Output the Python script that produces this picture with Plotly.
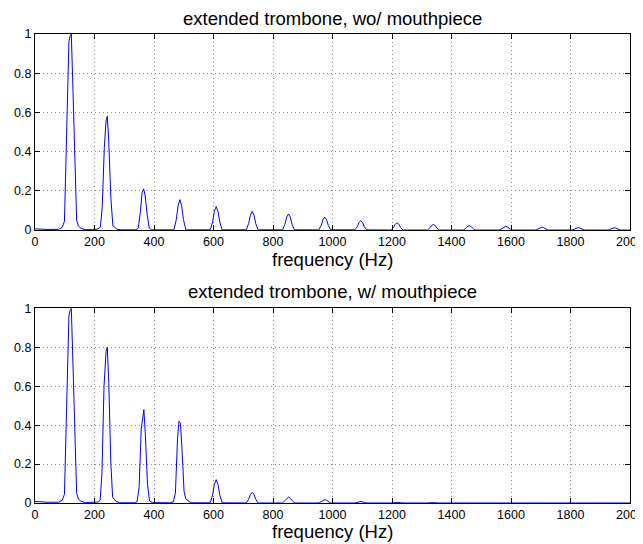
import plotly.graph_objects as go

# spectrum without mouthpiece (Hz, magnitude)
top_freq = [0, 40, 80, 92, 99, 106, 114, 118, 122, 127, 134, 140, 146, 155, 170,
            200, 212, 220, 226, 233, 239, 243, 248, 255, 262, 268, 275, 290,
            340, 347, 354, 360, 365, 370, 377, 384, 392,
            467, 475, 481, 487, 493, 499, 507,
            589, 597, 603, 609, 615, 621, 629,
            710, 718, 724, 730, 736, 742, 750,
            832, 840, 846, 852, 858, 864, 872,
            954, 962, 968, 974, 980, 986, 994,
            1075, 1083, 1089, 1095, 1101, 1107, 1115,
            1197, 1205, 1211, 1217, 1223, 1229, 1237,
            1319, 1327, 1333, 1339, 1345, 1351, 1359,
            1440, 1448, 1454, 1460, 1466, 1472, 1480,
            1562, 1570, 1576, 1582, 1588, 1594, 1602,
            1684, 1692, 1698, 1704, 1710, 1716, 1724,
            1806, 1814, 1820, 1826, 1832, 1838, 1846,
            1927, 1935, 1941, 1947, 1953, 1959, 1967,
            2000]
top_amp = [0.006, 0.003, 0.004, 0.015, 0.045, 0.45, 0.96, 0.99, 1.0, 0.75, 0.3, 0.05, 0.02, 0.008, 0.002,
           0.002, 0.006, 0.015, 0.12, 0.42, 0.56, 0.58, 0.45, 0.16, 0.02, 0.015, 0.004, 0.001,
           0.001, 0.01, 0.09, 0.19, 0.21, 0.18, 0.08, 0.01, 0.001,
           0.001, 0.054, 0.124, 0.155, 0.124, 0.054, 0.001,
           0.001, 0.042, 0.096, 0.12, 0.096, 0.042, 0.001,
           0.001, 0.033, 0.076, 0.095, 0.076, 0.033, 0.001,
           0.001, 0.029, 0.066, 0.082, 0.066, 0.029, 0.001,
           0.001, 0.023, 0.053, 0.066, 0.053, 0.023, 0.001,
           0.001, 0.016, 0.038, 0.047, 0.038, 0.016, 0.001,
           0.0, 0.013, 0.030, 0.037, 0.030, 0.013, 0.0,
           0.0, 0.010, 0.023, 0.029, 0.023, 0.010, 0.0,
           0.0, 0.008, 0.018, 0.022, 0.018, 0.008, 0.0,
           0.0, 0.007, 0.015, 0.019, 0.015, 0.007, 0.0,
           0.0, 0.005, 0.012, 0.015, 0.012, 0.005, 0.0,
           0.0, 0.005, 0.010, 0.013, 0.010, 0.005, 0.0,
           0.0, 0.004, 0.010, 0.012, 0.010, 0.004, 0.0,
           0.0]

# spectrum with mouthpiece
bot_freq = [0, 40, 80, 92, 99, 106, 114, 118, 122, 127, 134, 140, 146, 155, 170,
            200, 212, 219, 225, 232, 239, 243, 248, 255, 261, 266, 272, 285,
            335, 343, 350, 357, 361, 366, 371, 378, 385, 395,
            455, 465, 472, 479, 484, 489, 494, 501, 507, 514, 525,
            589, 597, 603, 609, 615, 621, 629,
            710, 718, 724, 730, 736, 742, 750,
            832, 840, 846, 852, 858, 864, 872,
            954, 962, 968, 974, 980, 986, 994,
            1075, 1083, 1089, 1095, 1101, 1107, 1115,
            1197, 1205, 1211, 1217, 1223, 1229, 1237,
            1319, 1339, 1359,
            1440, 1460, 1480,
            2000]
bot_amp = [0.008, 0.004, 0.004, 0.015, 0.045, 0.45, 0.96, 0.99, 1.0, 0.75, 0.3, 0.05, 0.02, 0.008, 0.002,
           0.002, 0.005, 0.015, 0.15, 0.6, 0.78, 0.80, 0.62, 0.2, 0.03, 0.02, 0.008, 0.001,
           0.001, 0.006, 0.08, 0.38, 0.44, 0.48, 0.35, 0.1, 0.01, 0.002,
           0.001, 0.006, 0.05, 0.33, 0.42, 0.41, 0.28, 0.06, 0.02, 0.012, 0.001,
           0.001, 0.042, 0.096, 0.12, 0.096, 0.042, 0.001,
           0.0, 0.019, 0.044, 0.055, 0.044, 0.019, 0.0,
           0.0, 0.011, 0.024, 0.03, 0.024, 0.011, 0.0,
           0.0, 0.006, 0.014, 0.017, 0.014, 0.006, 0.0,
           0.0, 0.003, 0.006, 0.008, 0.006, 0.003, 0.0,
           0.0, 0.0015, 0.003, 0.004, 0.003, 0.0015, 0.0,
           0.0, 0.002, 0.0,
           0.0, 0.001, 0.0,
           0.0]

titles = ["extended trombone, wo/ mouthpiece", "extended trombone, w/ mouthpiece"]
xlabel = "frequency (Hz)"
xticks = [0, 200, 400, 600, 800, 1000, 1200, 1400, 1600, 1800, 2000]
yticks = [0, 0.2, 0.4, 0.6, 0.8, 1]

FONT = "Liberation Sans, Arial, sans-serif"

fig = go.Figure()
fig.add_trace(go.Scatter(x=top_freq, y=top_amp, mode="lines",
                         line=dict(color="#0000ff", width=1), xaxis="x", yaxis="y"))
fig.add_trace(go.Scatter(x=bot_freq, y=bot_amp, mode="lines",
                         line=dict(color="#0000ff", width=1), xaxis="x2", yaxis="y2"))

ax = dict(showline=True, linecolor="black", linewidth=1, mirror="ticks",
          ticks="inside", ticklen=5, tickcolor="black",
          showgrid=True, gridcolor="#8c8c8c", griddash="1px,3px", gridwidth=1,
          zeroline=False, automargin=False, ticklabeloverflow="allow",
          tickfont=dict(size=12.5, color="black", family=FONT))

# the page body adds an 8px offset, so the figure is 8px smaller than the window
fig.update_layout(
    width=635, height=536,
    margin=dict(l=27, r=13, t=26, b=41),
    plot_bgcolor="white", paper_bgcolor="white",
    showlegend=False,
    font=dict(family=FONT, color="black"),
    xaxis=dict(ax, domain=[0, 1], anchor="y", range=[0, 2000], tickvals=xticks),
    yaxis=dict(ax, domain=[0.582, 1], anchor="x", range=[0, 1], tickvals=yticks),
    xaxis2=dict(ax, domain=[0, 1], anchor="y2", range=[0, 2000], tickvals=xticks),
    yaxis2=dict(ax, domain=[0, 0.415], anchor="x2", range=[0, 1], tickvals=yticks),
)

# titles and x labels placed like the matlab subplots
for txt, yy in [(titles[0], 1.032), (titles[1], 0.451), (xlabel, 0.519), (xlabel, -0.0618)]:
    fig.add_annotation(text=txt, x=0.5, y=yy, xref="paper", yref="paper",
                       showarrow=False, xanchor="center", yanchor="middle",
                       font=dict(size=18.5, color="black", family=FONT))

fig.write_html("out.html")
